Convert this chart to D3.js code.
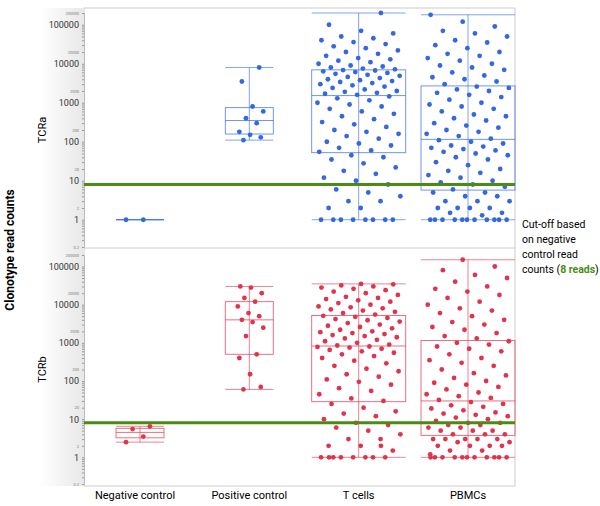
<!DOCTYPE html><html><head><meta charset="utf-8">
<script src="https://cdn.jsdelivr.net/npm/d3@7"></script>
<style>body{margin:0;background:#fff}text{font-family:Roboto,Arial,sans-serif}</style></head><body>
<script>
const categories=["Negative control","Positive control","T cells","PBMCs"];
const panels=["TCRa","TCRb"];
const cutoff=8;
const tcraNeg=[1,1];
const tcraPos=[110,130,150,180,300,400,600,800,3500,8000];
const tcraT=[1,1,1,1,1,1,1,1,2,2,3,3,4,5,6,8,10,12,15,18,22,28,35,40,45,55,60,70,80,90,100,120,140,160,180,200,240,280,320,380,450,520,600,700,800,900,1000,1150,1300,1450,1600,1700,1800,1900,2000,2200,2400,2600,2800,3000,3200,3400,3600,3800,4000,4300,4600,4900,5200,5500,5800,6100,6400,6700,6900,7200,7500,8000,8500,9000,10000,11000,12000,13000,14000,16000,18000,20000,22000,25000,28000,32000,36000,40000,45000,50000,60000,70000,100000,200000];
const tcraP=[1,1,1,1,1,1,1,1,1,1,1,1.3,1.5,1.5,2,2,2,2,3,3,3,4,4,5,5,6,7,8,9,10,12,14,16,18,20,25,30,35,40,45,50,55,60,65,70,75,80,90,100,110,120,140,160,180,200,230,260,300,350,400,450,500,600,700,800,900,1000,1200,1400,1600,1800,2000,2200,2400,2600,3000,3500,4000,4500,5000,6000,7000,8000,9000,10000,12000,14000,16000,18000,20000,25000,30000,35000,40000,50000,60000,70000,90000,120000,180000];
const tcrbNeg=[2.5,3.5,5.5,6.5];
const tcrbPos=[60,70,150,400,500,1500,2500,3500,4000,5000,6000,9000,12000,15000,20000,28000,30000];
const tcrbT=[1,1,1,1,1,1,1,1.5,2,2,3,3,4,5,6,7,8,10,12,14,16,20,25,30,35,45,55,65,80,95,110,130,150,180,210,250,290,340,400,450,500,550,600,650,700,750,780,800,850,900,1000,1100,1200,1300,1400,1500,1600,1700,1800,1900,2000,2200,2400,2600,2800,3000,3300,3600,3900,4200,4500,4800,5100,5500,6000,6500,7000,7500,8000,8500,9000,10000,11000,12000,13000,14000,15000,16000,18000,20000,22000,24000,26000,28000,30000,32000,34000,35000,1,2];
const tcrbP=[1,1,1,1,1,1,1,1,1,1,1.2,1.5,1.5,2,2,2,2,2.5,2.5,3,3,3,3,3,4,4,4,5,5,5,6,6,7,7,8,8,9,10,11,12,13,14,15,17,19,21,23,25,28,32,36,40,45,50,60,70,80,90,100,120,140,160,200,250,300,350,400,500,600,700,800,900,1000,1100,1300,1500,1800,2200,2600,3000,3500,4000,5000,6000,7000,8000,10000,12000,15000,18000,22000,26000,30000,40000,50000,60000,80000,100000,150000,1];
const data=[[tcraNeg,tcraPos,tcraT,tcraP],[tcrbNeg,tcrbPos,tcrbT,tcrbP]];
const colors=["#3468e0","#e0344c"];
const W=600,H=506;
const svg=d3.select("body").append("svg").attr("width",W).attr("height",H);
const defs=svg.append("defs");
const g=defs.append("linearGradient").attr("id","gr");
g.append("stop").attr("offset","0").attr("stop-color","#fff");
g.append("stop").attr("offset","1").attr("stop-color","#e8e8e8");
const x0=84,x1=515;
const x=d3.scalePoint().domain(categories).range([140,468]);
svg.append("rect").attr("x",x0).attr("y",8).attr("width",x1-x0).attr("height",478).attr("fill","none").attr("stroke","#ccc");
svg.append("rect").attr("x",40).attr("y",8).attr("width",x0-40).attr("height",478).attr("fill","url(#gr)");
const ranges=[[247,13],[484,255]];
const tickVals=[0.2,0.3,0.4,0.5,0.6,0.7,0.8,0.9,1,2,3,4,5,6,7,8,9,10,20,30,40,50,60,70,80,90,100,200,300,400,500,600,700,800,900,1000,2000,3000,4000,5000,6000,7000,8000,9000,10000,20000,30000,40000,50000,60000,70000,80000,90000,100000,200000];
const major=[1,10,100,1000,10000,100000];
const labelled=[0.2,2,20,200,2000,20000,200000].concat(major);
panels.forEach((p,pi)=>{
  const y=d3.scaleLog().domain([0.2,200000]).range(ranges[pi]);
  const ax=svg.append("g").attr("transform",`translate(${x0},0)`).call(d3.axisLeft(y).tickValues(tickVals).tickSize(2).tickFormat(d=>labelled.includes(d)?d:""));
  ax.select(".domain").attr("stroke","#bbb");
  ax.selectAll(".tick line").attr("stroke","#999");
  ax.selectAll(".tick text").attr("font-size",d=>major.includes(d)?9:4).attr("fill",d=>major.includes(d)?"#333":"#777");
  if(pi==0) svg.append("line").attr("x1",x0).attr("x2",x1).attr("y1",y(0.2)+1).attr("y2",y(0.2)+1).attr("stroke","#ccc");
  svg.append("text").attr("transform",`translate(46,${(ranges[pi][0]+ranges[pi][1])/2}) rotate(-90)`).attr("text-anchor","middle").attr("font-size",11).text(p);
  const c=colors[pi];
  data[pi].forEach((vals,ci)=>{
    const s=vals.slice().sort(d3.ascending);
    const q1=d3.quantile(s,0.25),md=d3.quantile(s,0.5),q3=d3.quantile(s,0.75);
    const cx=x(categories[ci]),bw=ci<2?24:47;
    const gg=svg.append("g");
    gg.append("line").attr("x1",cx).attr("x2",cx).attr("y1",y(s[0])).attr("y2",y(s[s.length-1])).attr("stroke",c).attr("stroke-opacity",.6);
    [s[0],s[s.length-1]].forEach(v=>gg.append("line").attr("x1",cx-bw).attr("x2",cx+bw).attr("y1",y(v)).attr("y2",y(v)).attr("stroke",c).attr("stroke-opacity",.6));
    gg.append("rect").attr("x",cx-bw).attr("width",bw*2).attr("y",y(q3)).attr("height",y(q1)-y(q3)).attr("fill","none").attr("stroke",c).attr("stroke-opacity",.7);
    gg.append("line").attr("x1",cx-bw).attr("x2",cx+bw).attr("y1",y(md)).attr("y2",y(md)).attr("stroke",c).attr("stroke-opacity",.7);
    const jw=ci<2?14:42;
    vals.forEach((v,i)=>{
      const f=((i*0.61803+ci*0.29)%1);
      const off=(f-0.5)*2*jw;
      gg.append("circle").attr("cx",cx+off).attr("cy",y(v)).attr("r",2.4).attr("fill",c);
    });
  });
  svg.append("line").attr("x1",x0).attr("x2",x1).attr("y1",y(cutoff)).attr("y2",y(cutoff)).attr("stroke","#4a8c12").attr("stroke-width",3);
});
categories.forEach(cn=>svg.append("text").attr("x",x(cn)-(cn==categories[0]?5:0)).attr("y",499).attr("text-anchor","middle").attr("font-size",11).text(cn));
svg.append("text").attr("transform","translate(14,250) rotate(-90)").attr("text-anchor","middle").attr("font-size",12).attr("font-weight","bold").text("Clonotype read counts");
const ann=["Cut-off based","on negative","control read"];
ann.forEach((t,i)=>svg.append("text").attr("x",522).attr("y",228+i*15).attr("font-size",10.5).text(t));
const last=svg.append("text").attr("x",522).attr("y",273).attr("font-size",10.5);
last.append("tspan").text("counts (");
last.append("tspan").attr("fill","#4a8c12").attr("font-weight","bold").text("8 reads");
last.append("tspan").text(")");
</script></body></html>
